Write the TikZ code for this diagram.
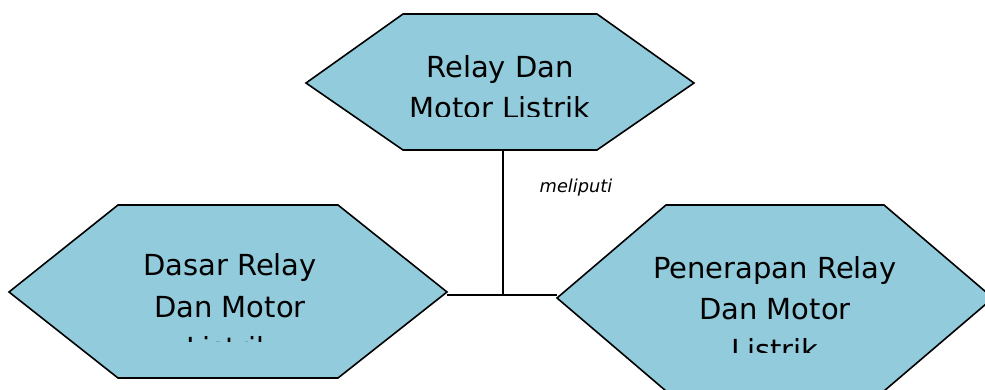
\documentclass[tikz,border=0pt]{standalone}
\usepackage{fontspec}
\setmainfont{DejaVu Sans}
\definecolor{hexfill}{RGB}{146,204,220}
\tikzset{
  hex/.style={fill=hexfill,draw=black,line width=1.6pt,line join=miter},
  lbl/.style={anchor=base,inner sep=0pt,font=\fontsize{29}{34}\selectfont},
  conn/.style={draw=black,line width=1.6pt},
  edgelbl/.style={anchor=base,inner sep=0pt,font=\fontsize{17.8}{21}\selectfont\itshape}
}
\begin{document}
\begin{tikzpicture}[x=1pt,y=-1pt]
\useasboundingbox (0,0) rectangle (985,390);
% hexagons
\path[hex] (306,83) -- (403,14) -- (597,14) -- (694,83) -- (597,150) -- (403,150) -- cycle;
\path[hex] (9,292) -- (118,205) -- (338,205) -- (447,292) -- (338,378) -- (118,378) -- cycle;
\path[hex] (557,298) -- (666,205) -- (884,205) -- (993,298) -- (884,391) -- (666,391) -- cycle;
% connector points
\coordinate (topS) at (503,150);
\coordinate (J) at (503,295);
\coordinate (Lp) at (447,295);
\coordinate (Rp) at (557,295);
\draw[conn] (topS) -- (J);
\draw[conn] (Lp) -- (Rp);
\node[edgelbl] (mel) at (576,193) {meliputi};
% texts (clipped like the reference)
\begin{scope}
\clip (300,0) rectangle (700,116.7);
\node[lbl] (t1) at (500,77.3) {Relay Dan};
\node[lbl] (t2) at (500,118.3) {Motor Listrik};
\end{scope}
\begin{scope}
\clip (0,200) rectangle (450,341);
\node[lbl] (l1) at (230,275.7) {Dasar Relay};
\node[lbl] (l2) at (230,317) {Dan Motor};
\node[lbl] (l3) at (230,358.3) {Listrik};
\end{scope}
\begin{scope}
\clip (555,200) rectangle (985,352);
\node[lbl] (r1) at (775,278) {Penerapan Relay};
\node[lbl] (r2) at (775,319) {Dan Motor};
\node[lbl] (r3) at (775,360) {Listrik};
\end{scope}
\end{tikzpicture}
\end{document}
